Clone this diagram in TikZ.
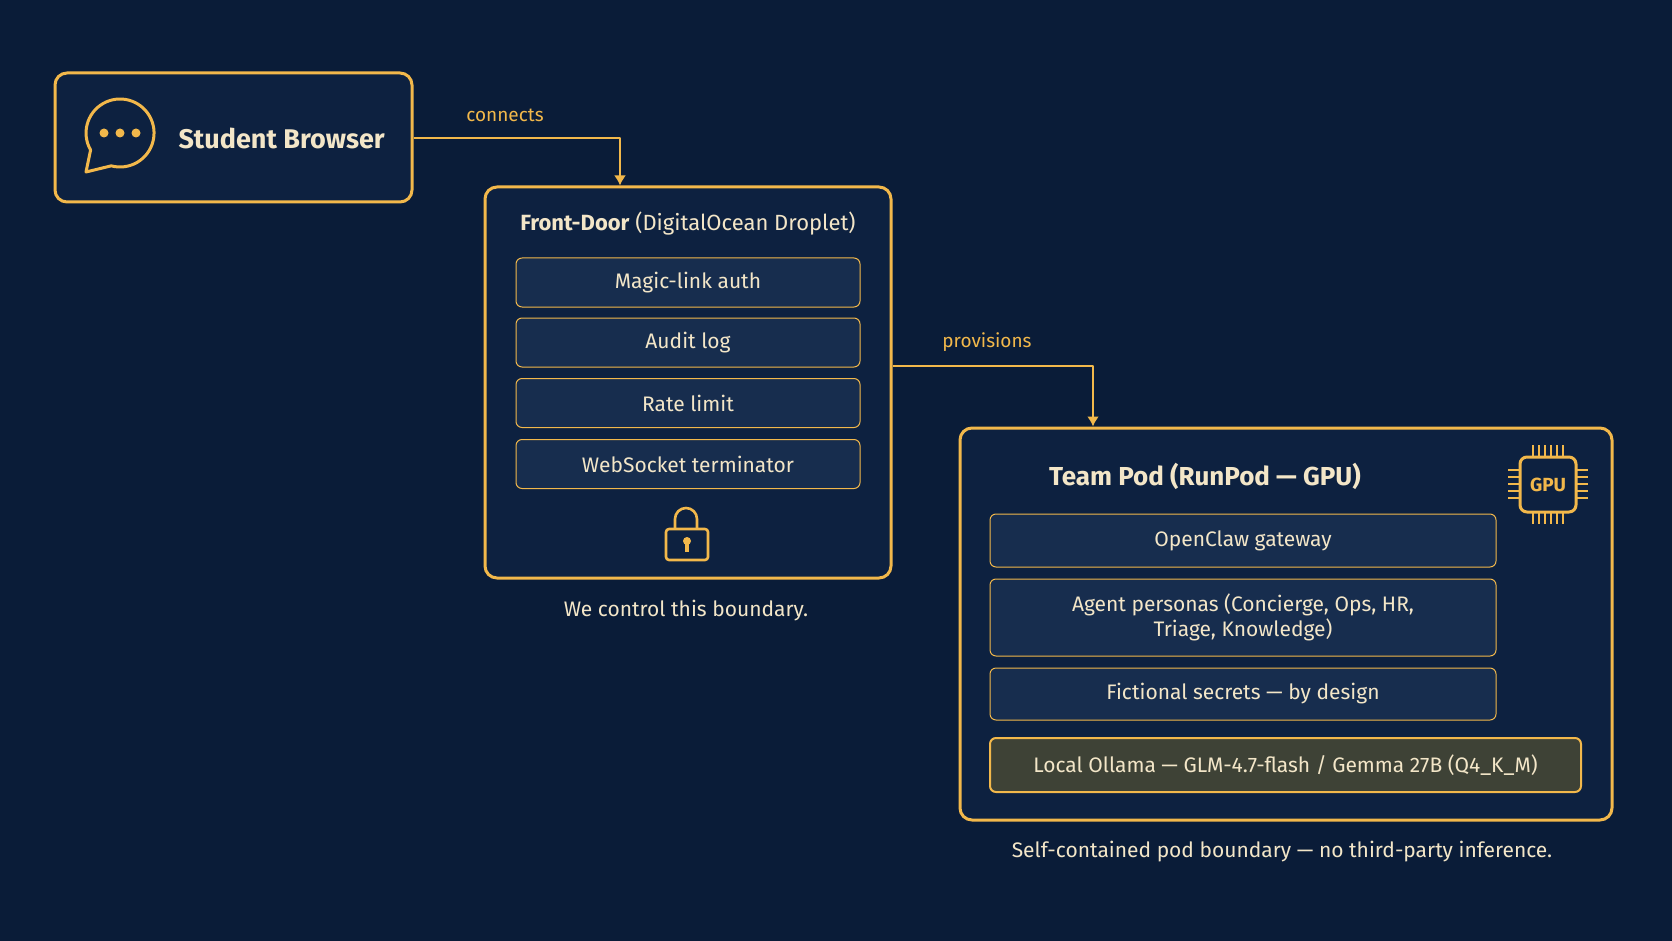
\documentclass[tikz,border=0pt]{standalone}
\usepackage{fontspec}
\setmainfont{Fira Sans}
\usetikzlibrary{arrows.meta}
\begin{document}
\begin{tikzpicture}[x=1pt,y=-1pt,
  line join=round,
  frame/.style={draw=acc,line width=3pt,rounded corners=12pt,fill=panel},
  item/.style={draw=acc,line width=1pt,rounded corners=6pt,fill=itemfill,text=cream,font=\fontsize{21}{25}\selectfont,align=center},
  lab/.style={text=acc,font=\fontsize{19}{22}\selectfont},
  captxt/.style={text=cream,font=\fontsize{21}{25}\selectfont},
  conn/.style={draw=acc,line width=2.2pt,-{Latex[length=10pt,width=12pt]}},
  ico/.style={draw=acc,line width=3pt}]
\definecolor{bg}{HTML}{0A1C38}
\definecolor{panel}{HTML}{0D2140}
\definecolor{itemfill}{HTML}{172D4E}
\definecolor{acc}{HTML}{F2B84B}
\definecolor{cream}{HTML}{F3E6C8}
\definecolor{olive}{HTML}{3E4236}
\fill[bg] (0,0) rectangle (1672,941);
\useasboundingbox (0,0) rectangle (1672,941);
% student browser
\node[frame,minimum width=357pt,minimum height=129pt] (sb) at (233.5,137.5) {};
\draw[ico] (86,172) -- (90.6,150) arc[start angle=150,end angle=465,radius=34] -- cycle;
\foreach \x in {104,120,136} \fill[acc] (\x,133) circle (4.5pt);
\node[text=cream,font=\bfseries\fontsize{27}{30}\selectfont,anchor=west] (sbt) at (175,138) {Student Browser};
% front door
\node[frame,minimum width=406pt,minimum height=391pt] (fd) at (688,382.5) {};
\node[text=cream,font=\fontsize{22}{27}\selectfont] (fdt) at (688,224) {\textbf{Front-Door} (DigitalOcean Droplet)};
\node[item,minimum width=344pt,minimum height=49pt] (i1) at (688,282.5) {Magic-link auth};
\node[item,minimum width=344pt,minimum height=49pt] (i2) at (688,342.5) {Audit log};
\node[item,minimum width=344pt,minimum height=49pt] (i3) at (688,403) {Rate limit};
\node[item,minimum width=344pt,minimum height=49pt] (i4) at (688,464) {WebSocket terminator};
\draw[ico,line width=2.6pt] (675,529) -- (675,519) arc[start angle=180,end angle=360,radius=11] -- (697,529);
\draw[ico,line width=2.6pt,rounded corners=3pt] (666,529) rectangle (708,560);
\fill[acc] (687,541) circle (4pt);
\fill[acc] (685,541) rectangle (689,552);
\node[captxt] (c1) at (686,611) {We control this boundary.};
% team pod
\node[frame,minimum width=652pt,minimum height=392pt] (tp) at (1286,624) {};
\node[text=cream,font=\bfseries\fontsize{26}{30}\selectfont] (tpt) at (1205,476) {Team Pod (RunPod — GPU)};
\node[item,minimum width=506pt,minimum height=53pt] (j1) at (1243,540.5) {OpenClaw gateway};
\node[item,minimum width=506pt,minimum height=77pt] (j2) at (1243,617.5) {Agent personas (Concierge, Ops, HR,\\Triage, Knowledge)};
\node[item,minimum width=506pt,minimum height=52pt] (j3) at (1243,694) {Fictional secrets — by design};
\node[item,line width=2pt,fill=olive,minimum width=591pt,minimum height=54pt] (j4) at (1285.5,765) {Local Ollama — GLM-4.7-flash / Gemma 27B (Q4\_K\_M)};
\node[captxt] (c2) at (1282,852) {Self-contained pod boundary — no third-party inference.};
% GPU icon
\draw[ico,rounded corners=7pt] (1520,457) rectangle (1576,512);
\node[text=acc,font=\bfseries\fontsize{19}{22}\selectfont] (gpu) at (1548,485) {GPU};
\foreach \i in {0,...,5}{
  \draw[acc,line width=2.2pt] (1533+\i*6,457)--(1533+\i*6,445);
  \draw[acc,line width=2.2pt] (1533+\i*6,512)--(1533+\i*6,524);
}
\foreach \i in {0,...,4}{
  \draw[acc,line width=2.2pt] (1520,470+\i*7)--(1508,470+\i*7);
  \draw[acc,line width=2.2pt] (1576,470+\i*7)--(1588,470+\i*7);
}
% connectors
\coordinate (a1) at (620,138);
\draw[conn] (sb.east|-a1) -- (a1) -- (a1|-fd.north);
\node[lab] (l1) at (505,115) {connects};
\coordinate (a2) at (1093,366);
\draw[conn] (fd.east|-a2) -- (a2) -- (a2|-tp.north);
\node[lab] (l2) at (987,342) {provisions};
\end{tikzpicture}
\end{document}
